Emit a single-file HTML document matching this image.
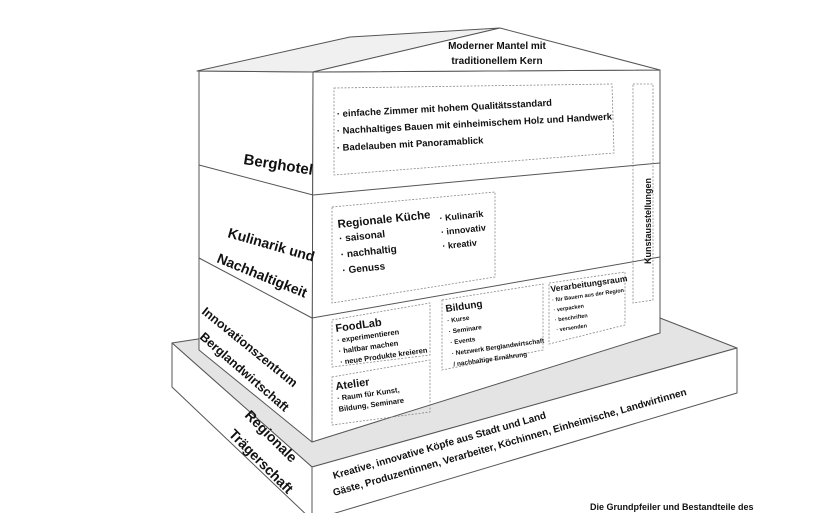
<!DOCTYPE html>
<html><head><meta charset="utf-8"><style>
html,body{margin:0;padding:0;background:#fff;}
svg{display:block;font-family:"Liberation Sans",sans-serif;}
.b{font-weight:bold;fill:#111;}
</style></head><body>
<svg width="820" height="513" viewBox="0 0 820 513" xmlns="http://www.w3.org/2000/svg">
<g stroke="#555" stroke-width="1" fill="#fff" stroke-linejoin="round">
<polygon points="172,343 198,339 660,318 737,348 312,467" fill="#e4e4e4"/>
<polygon points="172,343 312,467 312,520 172,387"/>
<polygon points="312,467 737,348 737,393 312,520"/>
<polygon points="199,71 313,72 312,442 199,350"/>
<polygon points="313,72 660,70 660,333 312,442"/>
<polygon points="197,71 350,37 500,28 313,72" fill="#f0f0f0"/>
<polygon points="313,72 500,28 660,70"/>
<line x1="199" y1="165" x2="313" y2="195"/>
<line x1="313" y1="195" x2="660" y2="163"/>
<line x1="199" y1="258" x2="312" y2="318"/>
<line x1="312" y1="318" x2="660" y2="257"/>
</g>
<g stroke="#888" stroke-width="0.8" stroke-dasharray="2,1.5" fill="none">
<polygon points="334,88 612,84 614,153 334,175"/>
<polygon points="633,84 653,84 653,300 633,303"/>
<polygon points="332,207 495,192 495,277 332,303"/>
<polygon points="332,320 430,303 430,355 332,367"/>
<polygon points="332,377 430,360 430,412 332,425"/>
<polygon points="442,300 543,284 543,350 442,370"/>
<polygon points="549,283 625,272 625,325 549,344"/>
</g>
<g class="b">
<text x="497" y="49" font-size="10" text-anchor="middle" font-weight="bold">Moderner Mantel mit</text>
<text x="497" y="64" font-size="10" text-anchor="middle" font-weight="bold">traditionellem Kern</text>
<g font-size="9.5" font-weight="bold">
<text transform="translate(337,117) rotate(-3)">· einfache Zimmer mit hohem Qualitätsstandard</text>
<text transform="translate(337,134) rotate(-3)">· Nachhaltiges Bauen mit einheimischem Holz und Handwerk</text>
<text transform="translate(337,151) rotate(-3)">· Badelauben mit Panoramablick</text>
</g>
<text transform="translate(651,264) rotate(-90)" font-size="9" font-weight="bold">Kunstausstellungen</text>
<text transform="translate(243,164) rotate(9)" font-size="15">Berghotel</text>
<text transform="translate(227,237) rotate(16)" font-size="14">Kulinarik und</text>
<text transform="translate(216,262) rotate(22)" font-size="14">Nachhaltigkeit</text>
<text transform="translate(201,313) rotate(39)" font-size="12.5">Innovationszentrum</text>
<text transform="translate(199,338) rotate(41)" font-size="12.5">Berglandwirtschaft</text>
<text transform="translate(244,416) rotate(45)" font-size="14">Regionale</text>
<text transform="translate(228,435) rotate(45)" font-size="14">Trägerschaft</text>
<g transform="translate(338,228) rotate(-6)" font-weight="bold">
<text x="0" y="0" font-size="11.5">Regionale Küche</text>
<text x="0" y="14" font-size="10">· saisonal</text>
<text x="0" y="30" font-size="10">· nachhaltig</text>
<text x="0" y="46" font-size="10">· Genuss</text>
<text x="102" y="4" font-size="9">· Kulinarik</text>
<text x="102" y="18" font-size="9">· innovativ</text>
<text x="102" y="32" font-size="9">· kreativ</text>
</g>
<g transform="translate(336,332) rotate(-8)" font-weight="bold">
<text x="0" y="0" font-size="11">FoodLab</text>
<text x="0" y="11" font-size="7.5">· experimentieren</text>
<text x="0" y="22" font-size="7.5">· haltbar machen</text>
<text x="0" y="33" font-size="7.5">· neue Produkte kreieren</text>
</g>
<g transform="translate(336,390) rotate(-8)" font-weight="bold">
<text x="0" y="0" font-size="11">Atelier</text>
<text x="0" y="11" font-size="7.5">· Raum für Kunst,</text>
<text x="0" y="22" font-size="7.5">Bildung, Seminare</text>
</g>
<g transform="translate(446,312) rotate(-8)" font-weight="bold">
<text x="0" y="0" font-size="10">Bildung</text>
<text x="0" y="11" font-size="6.5">· Kurse</text>
<text x="0" y="22" font-size="6.5">· Seminare</text>
<text x="0" y="33" font-size="6.5">· Events</text>
<text x="0" y="44" font-size="6.5">· Netzwerk Berglandwirtschaft</text>
<text x="0" y="55" font-size="6.5">/ nachhaltige Ernährung</text>
</g>
<g transform="translate(551,292) rotate(-8)" font-weight="bold">
<text x="0" y="0" font-size="8.5">Verarbeitungsraum</text>
<text x="0" y="10" font-size="5.5">· für Bauern aus der Region</text>
<text x="0" y="20" font-size="5.5">· verpacken</text>
<text x="0" y="30" font-size="5.5">· beschriften</text>
<text x="0" y="40" font-size="5.5">· versenden</text>
</g>
<g font-size="10" font-weight="bold">
<text transform="translate(334,479) rotate(-16)">Kreative, innovative Köpfe aus Stadt und Land</text>
<text transform="translate(334,496) rotate(-16)">Gäste, Produzentinnen, Verarbeiter, Köchinnen, Einheimische, Landwirtinnen</text>
</g>
<text x="590" y="510" font-size="9" font-weight="bold">Die Grundpfeiler und Bestandteile des</text>
</g>
</svg>
</body></html>
